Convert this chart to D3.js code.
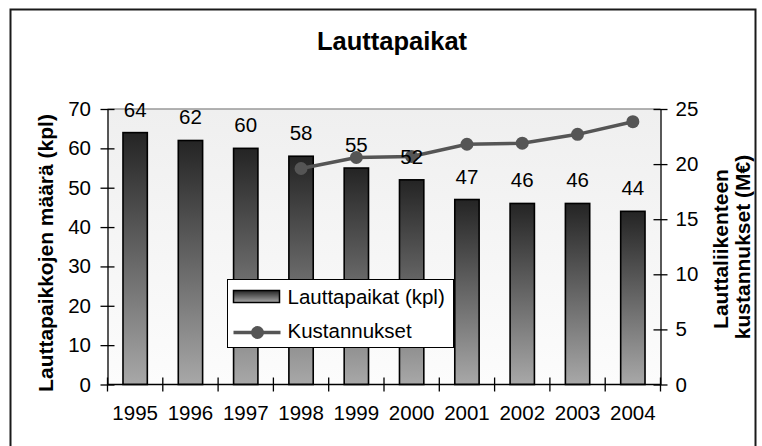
<!DOCTYPE html>
<html>
<head>
<meta charset="utf-8">
<script src="https://cdn.jsdelivr.net/npm/d3@7"></script>
<style>
  body { margin: 0; background: #fff; }
  text { font-family: "Liberation Sans", Arial, sans-serif; fill: #000; }
  .axis path, .axis line { stroke: #000; stroke-width: 1.3; }
  .axis text { font-size: 20.5px; }
  .axis--title { font-size: 21px; font-weight: bold; }
</style>
</head>
<body>
<div class="chart"></div>
<script>
var years = ["1995", "1996", "1997", "1998", "1999", "2000", "2001", "2002", "2003", "2004"];
var ferrySites = [64, 62, 60, 58, 55, 52, 47, 46, 46, 44];
var costYears = ["1998", "1999", "2000", "2001", "2002", "2003", "2004"];
var costs = [19.6, 20.6, 20.7, 21.8, 21.9, 22.7, 23.85];
var leftTicks = [0, 10, 20, 30, 40, 50, 60, 70];
var rightTicks = [0, 5, 10, 15, 20, 25];

var width = 762, height = 446;
var plot = { left: 107.5, right: 660.5, top: 109, bottom: 384.5 };

var svg = d3.select(".chart").append("svg")
    .attr("width", width)
    .attr("height", height);

var defs = svg.append("defs");
var barGrad = defs.append("linearGradient")
    .attr("id", "barGrad")
    .attr("x1", 0).attr("y1", 0).attr("x2", 0).attr("y2", 1);
barGrad.append("stop").attr("offset", "0%").attr("stop-color", "#242424");
barGrad.append("stop").attr("offset", "100%").attr("stop-color", "#a8a8a8");

var bgGrad = defs.append("linearGradient")
    .attr("id", "bgGrad")
    .attr("x1", 0).attr("y1", 0).attr("x2", 0).attr("y2", 1);
bgGrad.append("stop").attr("offset", "0%").attr("stop-color", "#efefef");
bgGrad.append("stop").attr("offset", "100%").attr("stop-color", "#fcfcfc");

// outer frame
svg.append("rect")
    .attr("x", 10.5)
    .attr("y", 9.5)
    .attr("width", 745)
    .attr("height", 460)
    .attr("fill", "none")
    .attr("stroke", "#1a1a1a")
    .attr("stroke-width", 2);

svg.append("text")
    .attr("x", 392)
    .attr("y", 50)
    .attr("text-anchor", "middle")
    .style("font-size", "25.5px")
    .style("font-weight", "bold")
    .text("Lauttapaikat");

var x = d3.scaleBand()
    .domain(years)
    .range([plot.left, plot.right])
    .paddingInner(0.56)
    .paddingOuter(0.28);
var yLeft = d3.scaleLinear().domain([0, 70]).range([plot.bottom, plot.top]);
var yRight = d3.scaleLinear().domain([0, 25]).range([plot.bottom, plot.top]);

// plot background
svg.append("rect")
    .attr("x", plot.left)
    .attr("y", plot.top)
    .attr("width", plot.right - plot.left)
    .attr("height", plot.bottom - plot.top)
    .attr("fill", "url(#bgGrad)");
svg.append("line")
    .attr("x1", plot.left).attr("x2", plot.right)
    .attr("y1", plot.top).attr("y2", plot.top)
    .attr("stroke", "#999")
    .attr("stroke-width", 1.5);

// bars
svg.append("g").selectAll("rect")
    .data(ferrySites)
  .enter().append("rect")
    .attr("x", function(d, i) { return x(years[i]); })
    .attr("y", function(d) { return yLeft(d); })
    .attr("width", x.bandwidth())
    .attr("height", function(d) { return plot.bottom - yLeft(d); })
    .attr("fill", "url(#barGrad)")
    .attr("stroke", "#000")
    .attr("stroke-width", 1.6);

// axes
var yAxisLeft = svg.append("g")
    .attr("class", "y axis")
    .attr("transform", "translate(" + plot.left + ",0)")
    .call(d3.axisLeft(yLeft).tickValues(leftTicks).tickSizeInner(7).tickSizeOuter(0).tickPadding(9.5));
yAxisLeft.selectAll(".tick line").attr("x1", 7);

var yAxisRight = svg.append("g")
    .attr("class", "y axis")
    .attr("transform", "translate(" + plot.right + ",0)")
    .call(d3.axisRight(yRight).tickValues(rightTicks).tickSizeInner(7).tickSizeOuter(0).tickPadding(8));
yAxisRight.selectAll(".tick line").attr("x1", -7);

var xAxis = svg.append("g")
    .attr("class", "x axis")
    .attr("transform", "translate(0," + plot.bottom + ")")
    .call(d3.axisBottom(x).tickSize(0).tickPadding(21));
xAxis.select(".domain").remove();
svg.append("line")
    .attr("x1", plot.left).attr("x2", plot.right)
    .attr("y1", plot.bottom).attr("y2", plot.bottom)
    .attr("stroke", "#000")
    .attr("stroke-width", 1.3);
// cross ticks between categories
svg.append("g").selectAll("line")
    .data(d3.range(years.length + 1))
  .enter().append("line")
    .attr("x1", function(i) { return plot.left + i * x.step(); })
    .attr("x2", function(i) { return plot.left + i * x.step(); })
    .attr("y1", plot.bottom - 7)
    .attr("y2", plot.bottom + 7)
    .attr("stroke", "#000")
    .attr("stroke-width", 1.3);

// cost line
var line = d3.line()
    .x(function(d, i) { return x(costYears[i]) + x.bandwidth() / 2; })
    .y(function(d) { return yRight(d); });
svg.append("path")
    .datum(costs)
    .attr("d", line)
    .attr("fill", "none")
    .attr("stroke", "#555")
    .attr("stroke-width", 3.5);
svg.append("g").selectAll("circle")
    .data(costs)
  .enter().append("circle")
    .attr("cx", function(d, i) { return x(costYears[i]) + x.bandwidth() / 2; })
    .attr("cy", function(d) { return yRight(d); })
    .attr("r", 6.5)
    .attr("fill", "#555");

// data labels
svg.append("g").selectAll("text")
    .data(ferrySites)
  .enter().append("text")
    .attr("x", function(d, i) { return x(years[i]) + x.bandwidth() / 2; })
    .attr("y", function(d) { return yLeft(d) - 16; })
    .attr("text-anchor", "middle")
    .style("font-size", "20.5px")
    .text(function(d) { return d; });

// axis titles
svg.append("text")
    .attr("class", "axis--title")
    .attr("transform", "translate(53,253) rotate(-90)")
    .attr("text-anchor", "middle")
    .text("Lauttapaikkojen määrä (kpl)");
svg.append("text")
    .attr("class", "axis--title")
    .attr("transform", "translate(728,249) rotate(-90)")
    .attr("text-anchor", "middle")
    .text("Lauttaliikenteen");
svg.append("text")
    .attr("class", "axis--title")
    .attr("transform", "translate(750,247) rotate(-90)")
    .attr("text-anchor", "middle")
    .text("kustannukset (M€)");

// legend
var legend = svg.append("g").attr("transform", "translate(227.5,279.5)");
legend.append("rect")
    .attr("width", 226)
    .attr("height", 68)
    .attr("fill", "#fff")
    .attr("stroke", "#000")
    .attr("stroke-width", 1);
legend.append("rect")
    .attr("x", 6).attr("y", 11)
    .attr("width", 46).attr("height", 12)
    .attr("fill", "url(#barGrad)")
    .attr("stroke", "#000")
    .attr("stroke-width", 1.5);
legend.append("text")
    .attr("x", 60).attr("y", 24)
    .style("font-size", "20.5px")
    .text("Lauttapaikat (kpl)");
legend.append("line")
    .attr("x1", 6).attr("x2", 53)
    .attr("y1", 53).attr("y2", 53)
    .attr("stroke", "#555")
    .attr("stroke-width", 3.5);
legend.append("circle")
    .attr("cx", 30).attr("cy", 53)
    .attr("r", 6.5)
    .attr("fill", "#555");
legend.append("text")
    .attr("x", 60).attr("y", 58)
    .style("font-size", "20.5px")
    .text("Kustannukset");
</script>
</body>
</html>
